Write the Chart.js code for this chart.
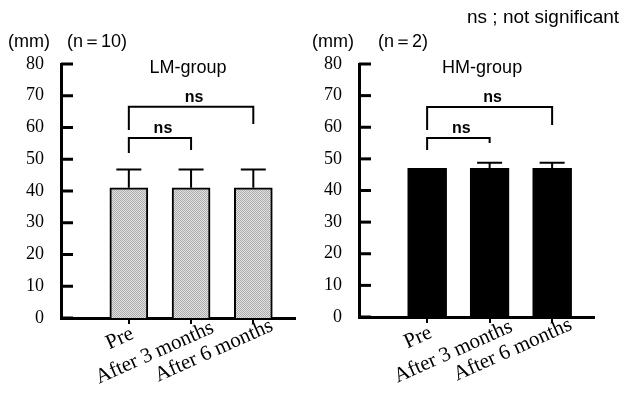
<!DOCTYPE html>
<html>
<head>
<meta charset="utf-8">
<script src="https://cdn.jsdelivr.net/npm/chart.js@4"></script>
<style>
  body { margin: 0; background: #fff; }
  #wrap { position: relative; width: 620px; height: 395px; overflow: hidden; }
  canvas { position: absolute; top: 0; }
  .lbl { position: absolute; font-family: "Liberation Sans", Arial, sans-serif; font-size: 18px; color: #000; white-space: nowrap; line-height: 20px; }
</style>
</head>
<body>
<div id="wrap">
  <canvas id="lm" width="300" height="395" style="left:0"></canvas>
  <canvas id="hm" width="320" height="395" style="left:300px"></canvas>
  <div class="lbl" style="left:8px;top:31px">(mm)</div>
  <div class="lbl" style="left:67px;top:31px">(n＝10)</div>
  <div class="lbl" style="left:312px;top:31px">(mm)</div>
  <div class="lbl" style="left:378px;top:31px">(n＝2)</div>
  <div class="lbl" style="left:467px;top:7px;font-size:19px">ns ; not significant</div>
</div>
<script>
const categories = ['Pre', 'After 3 months', 'After 6 months'];
const lmMeans = [41, 41, 41];
const lmSD = [5.8, 5.8, 5.8];
const hmMeans = [47, 47, 47];
const hmSD = [0, 1.8, 1.8];
const yTicks = [0, 10, 20, 30, 40, 50, 60, 70, 80];

// stippled grey for the LM bars
function stipple() {
  const c = document.createElement('canvas');
  c.width = 2; c.height = 2;
  const g = c.getContext('2d');
  g.fillStyle = '#e2e2e2'; g.fillRect(0, 0, 2, 2);
  g.fillStyle = '#ababab'; g.fillRect(0, 0, 1, 1); g.fillRect(1, 1, 1, 1);
  return g.createPattern(c, 'repeat');
}

const labelShift = [[6, 20], [24, 14], [21, 12]];

const extras = {
  id: 'extras',
  afterDatasetsDraw(chart, args, o) {
    const ctx = chart.ctx, x = chart.scales.x, y = chart.scales.y;
    ctx.save();
    ctx.strokeStyle = '#000';
    ctx.fillStyle = '#000';

    // inward y ticks
    ctx.lineWidth = 3;
    yTicks.forEach(v => {
      const py = y.getPixelForValue(v);
      ctx.beginPath(); ctx.moveTo(x.left, py); ctx.lineTo(x.left + 12, py); ctx.stroke();
    });

    // upper error bars
    ctx.lineWidth = 2;
    o.means.forEach((m, i) => {
      if (!o.sd[i]) return;
      const px = x.getPixelForValue(i + 1);
      const top = y.getPixelForValue(m + o.sd[i]);
      ctx.beginPath();
      ctx.moveTo(px, y.getPixelForValue(m)); ctx.lineTo(px, top);
      ctx.moveTo(px - 12.5, top); ctx.lineTo(px + 12.5, top);
      ctx.stroke();
    });

    // significance brackets
    ctx.font = 'bold 16px "Liberation Sans", Arial, sans-serif';
    ctx.textAlign = 'center'; ctx.textBaseline = 'middle';
    o.brackets.forEach(b => {
      const x1 = x.getPixelForValue(b.from), x2 = x.getPixelForValue(b.to);
      const yt = y.getPixelForValue(b.top);
      ctx.beginPath();
      ctx.moveTo(x1, y.getPixelForValue(b.legs[0]));
      ctx.lineTo(x1, yt); ctx.lineTo(x2, yt);
      ctx.lineTo(x2, y.getPixelForValue(b.legs[1]));
      ctx.stroke();
      ctx.fillText('ns', (x1 + x2) / 2 + 3, y.getPixelForValue(b.top + 2.9));
    });

    // group title
    ctx.font = '18px "Liberation Sans", Arial, sans-serif';
    ctx.fillText(o.title, x.getPixelForValue(o.titleX), y.getPixelForValue(78.6));

    // rotated category labels
    ctx.font = '21px "Liberation Serif", "Times New Roman", serif';
    ctx.textAlign = 'right'; ctx.textBaseline = 'alphabetic';
    categories.forEach((c, i) => {
      const px = x.getPixelForValue(i + 1);
      ctx.save();
      ctx.translate(px + labelShift[i][0], y.bottom + labelShift[i][1]);
      ctx.rotate(-24 * Math.PI / 180);
      ctx.fillText(c, 0, 0);
      ctx.restore();
    });
    ctx.restore();
  }
};

function makeChart(id, means, sd, fill, opts) {
  return new Chart(document.getElementById(id), {
    type: 'bar',
    data: {
      datasets: [{
        data: means.map((m, i) => ({ x: i + 1, y: m })),
        backgroundColor: fill,
        borderColor: '#000',
        borderWidth: 2,
        barThickness: opts.barW
      }]
    },
    plugins: [extras],
    options: {
      responsive: false,
      animation: false,
      layout: { padding: { top: 64, right: opts.padR, left: 0, bottom: 0 } },
      plugins: {
        legend: { display: false },
        tooltip: { enabled: false },
        extras: { means: means, sd: sd, brackets: opts.brackets, title: opts.title, titleX: opts.titleX }
      },
      scales: {
        x: {
          type: 'linear',
          offset: false,
          min: -0.09, max: 3.67,
          afterBuildTicks: s => { s.ticks = [1, 2, 3].map(v => ({ value: v })); },
          afterFit: s => { s.height = opts.xH; },
          ticks: { display: false },
          grid: { offset: false, drawOnChartArea: false, tickLength: 6, lineWidth: 2, color: '#000' },
          border: { width: 3, color: '#000' }
        },
        y: {
          min: 0, max: 80,
          afterBuildTicks: s => { s.ticks = yTicks.map(v => ({ value: v })); },
          afterFit: s => { s.width = opts.yW; },
          ticks: { color: '#000', padding: 17, font: { family: '"Liberation Serif", "Times New Roman", serif', size: 18 } },
          grid: { display: false, drawTicks: false },
          border: { width: 3, color: '#000' }
        }
      }
    }
  });
}

makeChart('lm', lmMeans, lmSD, stipple(), {
  barW: 38, padR: 5, xH: 77, yW: 61, title: 'LM-group', titleX: 1.95,
  brackets: [
    { from: 1, to: 2, top: 56.7, legs: [52, 52.9] },
    { from: 1, to: 3, top: 66.5, legs: [59.2, 61.1] }
  ]
});
makeChart('hm', hmMeans, hmSD, '#000', {
  barW: 39, padR: 26, xH: 78, yW: 59, title: 'HM-group', titleX: 1.88,
  brackets: [
    { from: 1, to: 2, top: 56.6, legs: [52.8, 55] },
    { from: 1, to: 3, top: 66.4, legs: [59.1, 60.7] }
  ]
});
</script>
</body>
</html>
